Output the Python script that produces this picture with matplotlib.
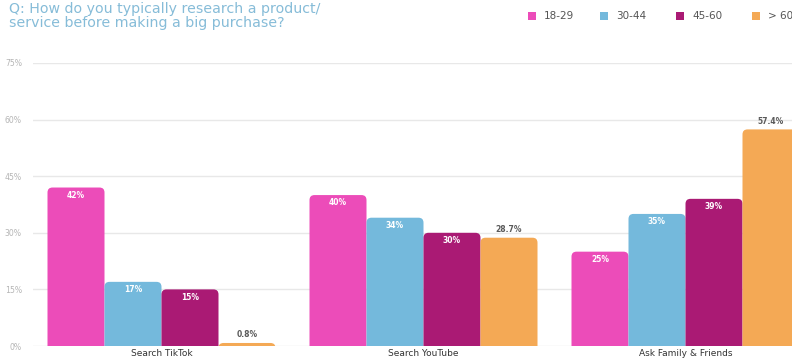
import numpy as np
import matplotlib.pyplot as plt
from matplotlib.patches import FancyBboxPatch, Rectangle

categories = ["Search TikTok", "Search YouTube", "Ask Family & Friends"]
age_groups = ["18-29", "30-44", "45-60", "> 60"]
values = {
    "18-29": [42, 40, 25],
    "30-44": [17, 34, 35],
    "45-60": [15, 30, 39],
    "> 60": [0.8, 28.7, 57.4],
}
labels = {
    "18-29": ["42%", "40%", "25%"],
    "30-44": ["17%", "34%", "35%"],
    "45-60": ["15%", "30%", "39%"],
    "> 60": ["0.8%", "28.7%", "57.4%"],
}
yticks = [0, 15, 30, 45, 60, 75]
colors = ["#EC4CB9", "#74B9DC", "#AA1A74", "#F4A955"]

W, H = 792, 358
fig = plt.figure(figsize=(W / 100, H / 100), dpi=100)
plt.rcParams['font.family'] = ['DejaVu Sans']

# axes placed in pixel terms
left, right, bottom, top = 33, 792, 346, 63
ax = fig.add_axes([left / W, (H - bottom) / H, (right - left) / W, (bottom - top) / H])
ax.set_ylim(0, 75)
group_px = 262
x0_px = 161.5
ax.set_xlim((left - x0_px) / group_px, (right - x0_px) / group_px)

bar_w = 57 / group_px
x = np.arange(len(categories))

px_x = group_px            # pixels per x unit
px_y = (bottom - top) / 75  # pixels per y unit
radius_px = 5

for j, grp in enumerate(age_groups):
    xs = x + (j - 1.5) * bar_w
    bars = ax.bar(xs, values[grp], width=bar_w, color=colors[j], alpha=0)
    for b, v, lab in zip(bars, values[grp], labels[grp]):
        bx, bw, bh = b.get_x(), b.get_width(), b.get_height()
        r = radius_px / px_x
        # start below zero so the lower rounded corners get clipped away
        y0 = -radius_px / px_y
        ax.add_patch(FancyBboxPatch((bx, y0), bw, bh - y0,
                                    boxstyle=f"round,pad=0,rounding_size={r}",
                                    mutation_aspect=px_x / px_y,
                                    fc=colors[j], ec="none", zorder=2))
        cx = bx + bw / 2
        if grp == "> 60":
            ax.text(cx, bh + 1.0, lab, ha="center", va="bottom",
                    fontsize=5.5, color="#5a5a5a", fontweight="bold", zorder=3)
        else:
            ax.text(cx, bh - 0.9, lab, ha="center", va="top",
                    fontsize=5.5, color="white", fontweight="bold", zorder=3)

ax.set_yticks(yticks)
ax.set_yticklabels([f"{t}%" for t in yticks], fontsize=5.6, color="#b5b5b5")
ax.yaxis.set_tick_params(length=0, pad=8)
ax.grid(axis="y", color="#e8e8e8", linewidth=1)
ax.set_axisbelow(True)
ax.set_xticks(x)
ax.set_xticklabels(categories, fontsize=6.5, color="#333333")
ax.xaxis.set_tick_params(length=0, pad=2)
for s in ax.spines.values():
    s.set_visible(False)

fig.text(9 / W, 1 - 2 / H, "Q: How do you typically research a product/\nservice before making a big purchase?",
         ha="left", va="top", fontsize=10.2, color="#86bcd8", linespacing=1.0)

leg_x = [528, 600, 676, 752]
for j, grp in enumerate(age_groups):
    fig.patches.append(Rectangle((leg_x[j] / W, 1 - 20 / H), 8 / W, 8 / H,
                                 transform=fig.transFigure, fc=colors[j], ec="none"))
    fig.text((leg_x[j] + 16) / W, 1 - 16 / H, grp, ha="left", va="center",
             fontsize=7.5, color="#555555")

fig.savefig("out.png", dpi=100)
